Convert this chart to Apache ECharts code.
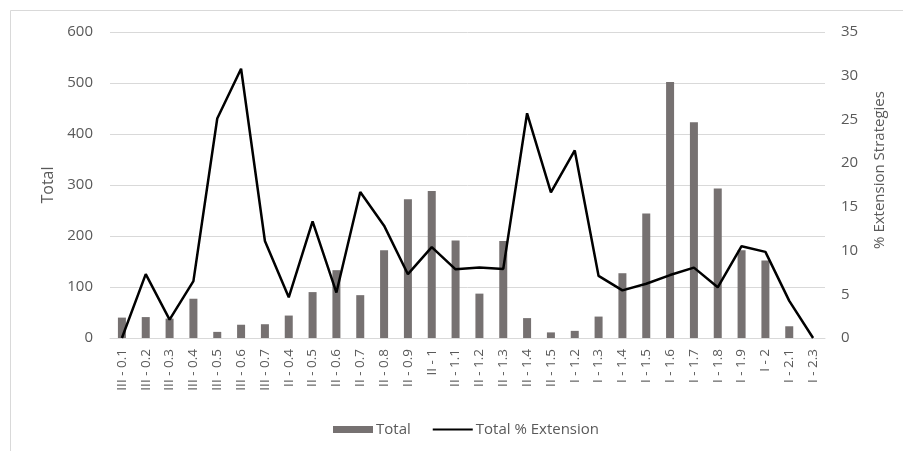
<!DOCTYPE html>
<html>
<head>
<meta charset="utf-8">
<script src="https://cdn.jsdelivr.net/npm/echarts@6/dist/echarts.min.js"></script>
<style>
  html, body { margin: 0; padding: 0; background: #fff; }
  #chart { width: 903px; height: 451px; }
</style>
</head>
<body>
<div id="chart"></div>
<script>
// Strategy codes along the x axis
const categories = [
  'III - 0.1', 'III - 0.2', 'III - 0.3', 'III - 0.4', 'III - 0.5', 'III - 0.6', 'III - 0.7',
  'II - 0.4', 'II - 0.5', 'II - 0.6', 'II - 0.7', 'II - 0.8', 'II - 0.9', 'II - 1',
  'II - 1.1', 'II - 1.2', 'II - 1.3', 'II - 1.4', 'II - 1.5',
  'I - 1.2', 'I - 1.3', 'I - 1.4', 'I - 1.5', 'I - 1.6', 'I - 1.7', 'I - 1.8', 'I - 1.9',
  'I - 2', 'I - 2.1', 'I - 2.3'
];

// Counts (left axis)
const totals = [
  40, 41, 38, 77, 12, 26, 27,
  44, 90, 133, 84, 172, 272, 288,
  191, 87, 190, 39, 11,
  14, 42, 127, 244, 502, 423, 293, 172,
  152, 23, 0
];

// Share of extension strategies, % (right axis)
const pctExtension = [
  0, 7.3, 2.1, 6.5, 25.1, 30.8, 11.1,
  4.65, 13.35, 5.2, 16.7, 12.85, 7.3, 10.4,
  7.85, 8.05, 7.9, 25.7, 16.65,
  21.45, 7.1, 5.45, 6.2, 7.2, 8.05, 5.8, 10.5,
  9.85, 4.25, 0
];

const leftTicks = { min: 0, max: 600, interval: 100 };
const rightTicks = { min: 0, max: 35, interval: 5 };

const font = '"Open Sans", "Noto Sans", sans-serif';
const textColor = '#595959';
const gridColor = '#d9d9d9';

const chart = echarts.init(document.getElementById('chart'), null, { renderer: 'canvas' });

chart.setOption({
  animation: false,
  backgroundColor: '#ffffff',
  textStyle: { fontFamily: font },
  graphic: [{
    type: 'rect',
    shape: { x: 10.5, y: 10.5, width: 900, height: 450 },
    style: { fill: 'none', stroke: '#d9d9d9', lineWidth: 1 },
    silent: true
  }],
  grid: { left: 110, right: 78, top: 32, bottom: 113, containLabel: false, outerBoundsMode: 'none' },
  legend: {
    bottom: 9,
    left: 328,
    itemGap: 21,
    itemWidth: 40,
    itemHeight: 7,
    textStyle: { color: textColor, fontSize: 15, fontFamily: font, padding: [0, 0, 0, -2] },
    data: [
      { name: 'Total', icon: 'rect' },
      { name: 'Total % Extension', itemStyle: { opacity: 0 } }
    ]
  },
  xAxis: {
    type: 'category',
    data: categories,
    axisLine: { show: true, lineStyle: { color: gridColor, width: 1 } },
    axisTick: { show: false },
    axisLabel: {
      rotate: 90,
      interval: 0,
      color: textColor,
      fontSize: 13.5,
      fontFamily: font,
      margin: 11
    }
  },
  yAxis: [
    {
      type: 'value',
      name: 'Total',
      nameLocation: 'middle',
      nameGap: 54,
      nameRotate: 90,
      nameTextStyle: { color: textColor, fontSize: 16, fontFamily: font },
      min: leftTicks.min, max: leftTicks.max, interval: leftTicks.interval,
      axisLine: { show: false },
      axisTick: { show: false },
      axisLabel: { color: textColor, fontSize: 15, fontFamily: font, margin: 17 },
      splitLine: { show: true, lineStyle: { color: gridColor, width: 1 } }
    },
    {
      type: 'value',
      name: '% Extension Strategies',
      nameLocation: 'middle',
      nameGap: 47,
      nameRotate: 90,
      nameTextStyle: { color: textColor, fontSize: 15, fontFamily: font, padding: [0, 0, 0, 30] },
      min: rightTicks.min, max: rightTicks.max, interval: rightTicks.interval,
      axisLine: { show: false },
      axisTick: { show: false },
      axisLabel: { color: textColor, fontSize: 15, fontFamily: font, margin: 16 },
      splitLine: { show: false }
    }
  ],
  series: [
    {
      name: 'Total',
      type: 'bar',
      yAxisIndex: 0,
      data: totals,
      barWidth: 8,
      itemStyle: { color: '#767171' }
    },
    {
      name: 'Total % Extension',
      type: 'line',
      yAxisIndex: 1,
      data: pctExtension,
      symbol: 'none',
      showSymbol: false,
      lineStyle: { color: '#000000', width: 2.5 },
      itemStyle: { color: '#000000' }
    }
  ]
});
</script>
</body>
</html>
